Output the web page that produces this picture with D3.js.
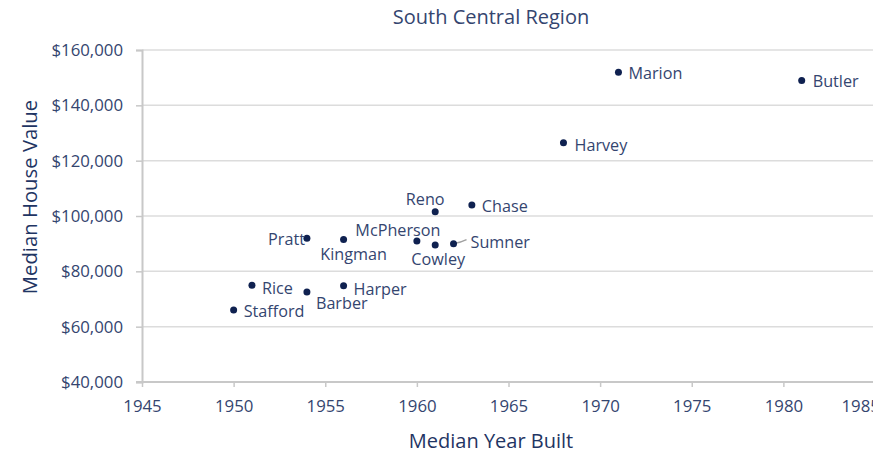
<!DOCTYPE html>
<html>
<head>
<meta charset="utf-8">
<script src="https://cdn.jsdelivr.net/npm/d3@7"></script>
<style>
  html, body { margin: 0; padding: 0; background: #fff; }
  svg { display: block; overflow: hidden; }
  text { font-family: "Open Sans", Lato, sans-serif; }
</style>
</head>
<body>
<div id="chart"></div>
<script>
// Counties of the South Central region
const counties = ["Marion", "Butler", "Harvey", "Reno", "Chase", "Pratt", "Kingman",
  "McPherson", "Cowley", "Sumner", "Rice", "Barber", "Harper", "Stafford"];
// Median year built for each county
const yearBuilt = [1971, 1981, 1968, 1961, 1963, 1954, 1956, 1960, 1961, 1962, 1951, 1954, 1956, 1950];
// Median house value for each county (USD)
const houseValue = [152000, 149000, 126500, 101500, 104000, 92000, 91500, 91000, 89500, 90000,
  75000, 72500, 74800, 66000];
// Axis ticks
const xTicks = [1945, 1950, 1955, 1960, 1965, 1970, 1975, 1980, 1985];
const yTicks = [40000, 60000, 80000, 100000, 120000, 140000, 160000];

// Label placement around each dot: offset and anchor
const labelPlace = {
  Marion:    { dx: 10,  dy: 1,   anchor: "start" },
  Butler:    { dx: 11,  dy: 1,   anchor: "start" },
  Harvey:    { dx: 11,  dy: 2,   anchor: "start" },
  Reno:      { dx: -10, dy: -13, anchor: "middle" },
  Chase:     { dx: 10,  dy: 1,   anchor: "start" },
  Pratt:     { dx: -2,  dy: 1,   anchor: "end" },
  Kingman:   { dx: 10,  dy: 14,  anchor: "middle" },
  McPherson: { dx: -19, dy: -11, anchor: "middle" },
  Cowley:    { dx: 3,   dy: 14,  anchor: "middle" },
  Sumner:    { dx: 17,  dy: -2,  anchor: "start", leader: true },
  Rice:      { dx: 10,  dy: 3,   anchor: "start" },
  Barber:    { dx: 9,   dy: 11,  anchor: "start" },
  Harper:    { dx: 10,  dy: 3,   anchor: "start" },
  Stafford:  { dx: 10,  dy: 1,   anchor: "start" }
};

const W = 873, H = 451;
const margin = { top: 50, right: -2, bottom: 69, left: 142 };
const plotW = W - margin.left - margin.right;   // 1945..1985 spans to x≈875
const plotH = H - margin.top - margin.bottom;

const svg = d3.select("#chart").append("svg")
  .attr("width", W).attr("height", H);

const x = d3.scaleLinear().domain([1945, 1985]).range([margin.left, margin.left + plotW]);
const y = d3.scaleLinear().domain([40000, 160000]).range([margin.top + plotH, margin.top]);

const textColor = "#34456f";
const titleColor = "#1f3563";
const dotColor = "#0f2150";
const font = "'Open Sans', sans-serif";

// Horizontal gridlines
svg.append("g")
  .selectAll("line")
  .data(yTicks.filter(d => d !== 40000))
  .join("line")
  .attr("x1", margin.left).attr("x2", W)
  .attr("y1", d => y(d)).attr("y2", d => y(d))
  .attr("stroke", "#dcdcdc").attr("stroke-width", 1.5);

// Y axis
const yAxis = svg.append("g")
  .attr("transform", `translate(${margin.left},0)`)
  .call(d3.axisLeft(y).tickValues(yTicks).tickSize(6).tickPadding(13)
    .tickFormat(d => "$" + d3.format(",")(d)));
yAxis.select(".domain").attr("stroke", "#c8c8c8").attr("stroke-width", 2);
yAxis.selectAll(".tick line").attr("stroke", "#c8c8c8").attr("stroke-width", 1.5);
yAxis.selectAll(".tick text").attr("fill", textColor)
  .style("font-size", "16.8px").style("font-family", font);

// X axis
const xAxis = svg.append("g")
  .attr("transform", `translate(0,${margin.top + plotH})`)
  .call(d3.axisBottom(x).tickValues(xTicks).tickSize(5).tickPadding(13)
    .tickFormat(d3.format("d")));
xAxis.select(".domain").attr("stroke", "#c8c8c8").attr("stroke-width", 2)
  .attr("d", `M${margin.left - 6},0H${W}`);
xAxis.selectAll(".tick line").attr("stroke", "#c8c8c8").attr("stroke-width", 1.5);
xAxis.selectAll(".tick text").attr("fill", textColor)
  .style("font-size", "16.8px").style("font-family", font);
// The last year label is nudged left to stay mostly inside the frame
xAxis.selectAll(".tick text").filter(d => d === xTicks[xTicks.length - 1])
  .attr("text-anchor", "start").attr("x", -34);

// Points
const pts = counties.map((name, i) => ({ name, year: yearBuilt[i], value: houseValue[i] }));

svg.append("g")
  .selectAll("path.leader")
  .data(pts.filter(d => labelPlace[d.name].leader))
  .join("path")
  .attr("d", d => {
    const cx = x(d.year), cy = y(d.value), p = labelPlace[d.name];
    return `M${cx},${cy} Q${cx + 7},${cy - 1} ${cx + p.dx - 4},${cy + p.dy - 2}`;
  })
  .attr("fill", "none").attr("stroke", "#a0a0a0").attr("stroke-width", 1.3);

svg.append("g")
  .selectAll("circle")
  .data(pts)
  .join("circle")
  .attr("cx", d => x(d.year))
  .attr("cy", d => y(d.value))
  .attr("r", 3.5)
  .attr("fill", dotColor);

svg.append("g")
  .selectAll("text")
  .data(pts)
  .join("text")
  .attr("x", d => x(d.year) + labelPlace[d.name].dx)
  .attr("y", d => y(d.value) + labelPlace[d.name].dy)
  .attr("text-anchor", d => labelPlace[d.name].anchor)
  .attr("dominant-baseline", "central")
  .attr("fill", textColor)
  .style("font-size", "16.2px")
  .text(d => d.name);

// Chart title
svg.append("text")
  .attr("x", 491).attr("y", 24)
  .attr("text-anchor", "middle")
  .attr("fill", textColor)
  .style("font-size", "20px")
  .text("South Central Region");

// Axis titles
svg.append("text")
  .attr("x", 491).attr("y", 448)
  .attr("text-anchor", "middle")
  .attr("fill", titleColor)
  .style("font-size", "20px")
  .text("Median Year Built");

svg.append("text")
  .attr("transform", "translate(29,197) rotate(-90)")
  .attr("text-anchor", "middle").attr("dominant-baseline", "central")
  .attr("fill", titleColor)
  .style("font-size", "20.3px")
  .text("Median House Value");
</script>
</body>
</html>
